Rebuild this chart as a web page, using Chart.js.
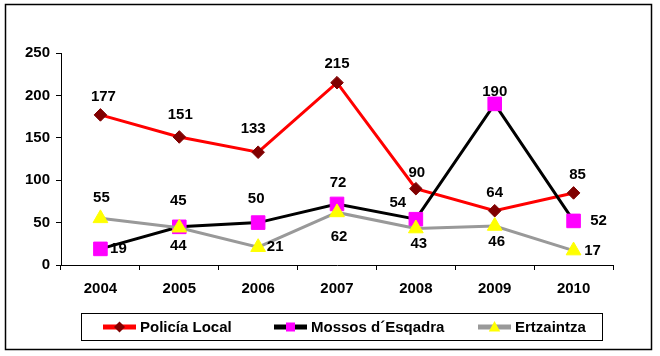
<!DOCTYPE html>
<html>
<head>
<meta charset="utf-8">
<script src="https://cdn.jsdelivr.net/npm/chart.js@4/dist/chart.umd.min.js"></script>
<style>
  html, body { margin: 0; padding: 0; background: #ffffff; }
  #wrap { width: 660px; height: 356px; }
</style>
</head>
<body>
<div id="wrap"><canvas id="c" width="660" height="356"></canvas></div>
<script>
// ---- DATA ----
const categories = ['2004', '2005', '2006', '2007', '2008', '2009', '2010'];
const policiaLocal = [177, 151, 133, 215, 90, 64, 85];
const mossos = [19, 45, 50, 72, 54, 190, 52];
const ertzaintza = [55, 44, 21, 62, 43, 46, 17];
const seriesNames = ['Policía Local', 'Mossos d´Esqadra', 'Ertzaintza'];
const yTicks = [0, 50, 100, 150, 200, 250];

// ---- font pick ----
function hasFont(name) {
  const ctx = document.createElement('canvas').getContext('2d');
  const s = 'Mossos d Esqadra 2004 wmi';
  ctx.font = 'bold 20px monospace';
  const a = ctx.measureText(s).width;
  ctx.font = 'bold 20px "' + name + '", monospace';
  return ctx.measureText(s).width !== a;
}
const narrow = hasFont('Liberation Sans Narrow');
const FONT_FAMILY = narrow ? '"Liberation Sans Narrow"' : '"Liberation Sans", Arial, sans-serif';
const FONT_SIZE = narrow ? 17 : 15;
const FONT = 'bold ' + FONT_SIZE + 'px ' + FONT_FAMILY;

Chart.defaults.font.family = FONT_FAMILY;
Chart.defaults.font.size = FONT_SIZE;
Chart.defaults.font.weight = 'bold';
Chart.defaults.color = '#000000';

// label offsets (pixels, style only)
const labelOffsets = [
  [[3,-18],[1,-22],[-5,-23],[0,-19],[1,-16],[0,-18],[4,-18]],
  [[18,0],[-1,-26],[-2,-24],[1,-21],[-18,-16],[0,-12],[25,0]],
  [[1,-21],[-1,18],[17,0],[2,24],[3,15.5],[2,15.5],[19,0]]
];

function drawMarker(ctx, style, x, y, size, fill) {
  ctx.save();
  ctx.fillStyle = fill;
  ctx.beginPath();
  if (style === 'diamond') {
    ctx.moveTo(x - size, y); ctx.lineTo(x, y - size); ctx.lineTo(x + size, y); ctx.lineTo(x, y + size);
  } else if (style === 'square') {
    ctx.rect(x - size, y - size, size * 2, size * 2);
  } else {
    ctx.moveTo(x, y - size); ctx.lineTo(x + size * 0.95, y + size * 0.75); ctx.lineTo(x - size * 0.95, y + size * 0.75);
  }
  ctx.closePath();
  ctx.fill();
  ctx.restore();
}

const decorPlugin = {
  id: 'decor',
  afterDatasetsDraw(chart) {
    const ctx = chart.ctx;
    ctx.save();
    ctx.font = FONT;
    ctx.fillStyle = '#000000';
    ctx.textAlign = 'center';
    ctx.textBaseline = 'middle';
    chart.data.datasets.forEach((ds, di) => {
      const meta = chart.getDatasetMeta(di);
      meta.data.forEach((pt, i) => {
        const off = labelOffsets[di][i];
        ctx.fillText(String(ds.data[i]), pt.x + off[0], pt.y + off[1]);
      });
    });
    ctx.restore();
  },
  afterDraw(chart) {
    const ctx = chart.ctx;
    ctx.save();
    // outer border
    ctx.strokeStyle = '#000000';
    ctx.lineWidth = 1.5;
    ctx.strokeRect(5.5, 4.5, 646, 345);
    // legend box
    ctx.lineWidth = 1;
    ctx.strokeRect(81.5, 313.5, 521, 27);
    const items = [
      { line: '#ff0000', marker: 'diamond', mfill: '#800000', msize: 5.5, x: 103, tx: 140 },
      { line: '#000000', marker: 'square', mfill: '#ff00ff', msize: 4.5, x: 274, tx: 311 },
      { line: '#999999', marker: 'triangle', mfill: '#ffff00', msize: 6, x: 478, tx: 515 }
    ];
    const cy = 327;
    items.forEach((it, k) => {
      ctx.fillStyle = it.line;
      ctx.fillRect(it.x, cy - 2.5, 33, 5);
      drawMarker(ctx, it.marker, it.x + 16.5, cy, it.msize, it.mfill);
      ctx.fillStyle = '#000000';
      ctx.font = FONT;
      ctx.textAlign = 'left';
      ctx.textBaseline = 'middle';
      ctx.fillText(chart.data.datasets[k].label, it.tx, cy + 1);
    });
    ctx.restore();
  }
};

new Chart(document.getElementById('c'), {
  type: 'line',
  data: {
    labels: categories,
    datasets: [
      {
        label: seriesNames[0], data: policiaLocal, order: 2,
        borderColor: '#ff0000', borderWidth: 3,
        pointStyle: 'rectRot', pointRadius: 6.3, pointBackgroundColor: '#800000',
        pointBorderColor: '#800000', pointBorderWidth: 1, tension: 0
      },
      {
        label: seriesNames[1], data: mossos, order: 1,
        borderColor: '#000000', borderWidth: 3,
        pointStyle: 'rect', pointRadius: 9.6, pointBackgroundColor: '#ff00ff',
        pointBorderColor: '#ff00ff', pointBorderWidth: 1, tension: 0
      },
      {
        label: seriesNames[2], data: ertzaintza, order: 0,
        borderColor: '#999999', borderWidth: 3,
        pointStyle: 'triangle', pointRadius: 8.5, pointBackgroundColor: '#ffff00',
        pointBorderColor: '#ffff00', pointBorderWidth: 1, tension: 0
      }
    ]
  },
  options: {
    responsive: false,
    animation: false,
    layout: { padding: { left: 0, top: 53, right: 47, bottom: 51 } },
    plugins: { legend: { display: false }, tooltip: { enabled: false } },
    scales: {
      x: {
        type: 'category',
        offset: true,
        grid: { offset: true, drawOnChartArea: false, drawTicks: true, tickLength: 5, color: '#000000' },
        border: { color: '#000000', width: 1 },
        ticks: { padding: 10, color: '#000000', maxRotation: 0 },
        afterFit(scale) { scale.height = 40; }
      },
      y: {
        min: 0, max: 250,
        afterBuildTicks(scale) { scale.ticks = yTicks.map(v => ({ value: v })); },
        grid: { drawOnChartArea: false, drawTicks: true, tickLength: 5, color: '#000000' },
        border: { color: '#000000', width: 1 },
        ticks: { padding: 6, color: '#000000' },
        afterFit(scale) { scale.width = 61; }
      }
    }
  },
  plugins: [decorPlugin]
});
</script>
</body>
</html>
